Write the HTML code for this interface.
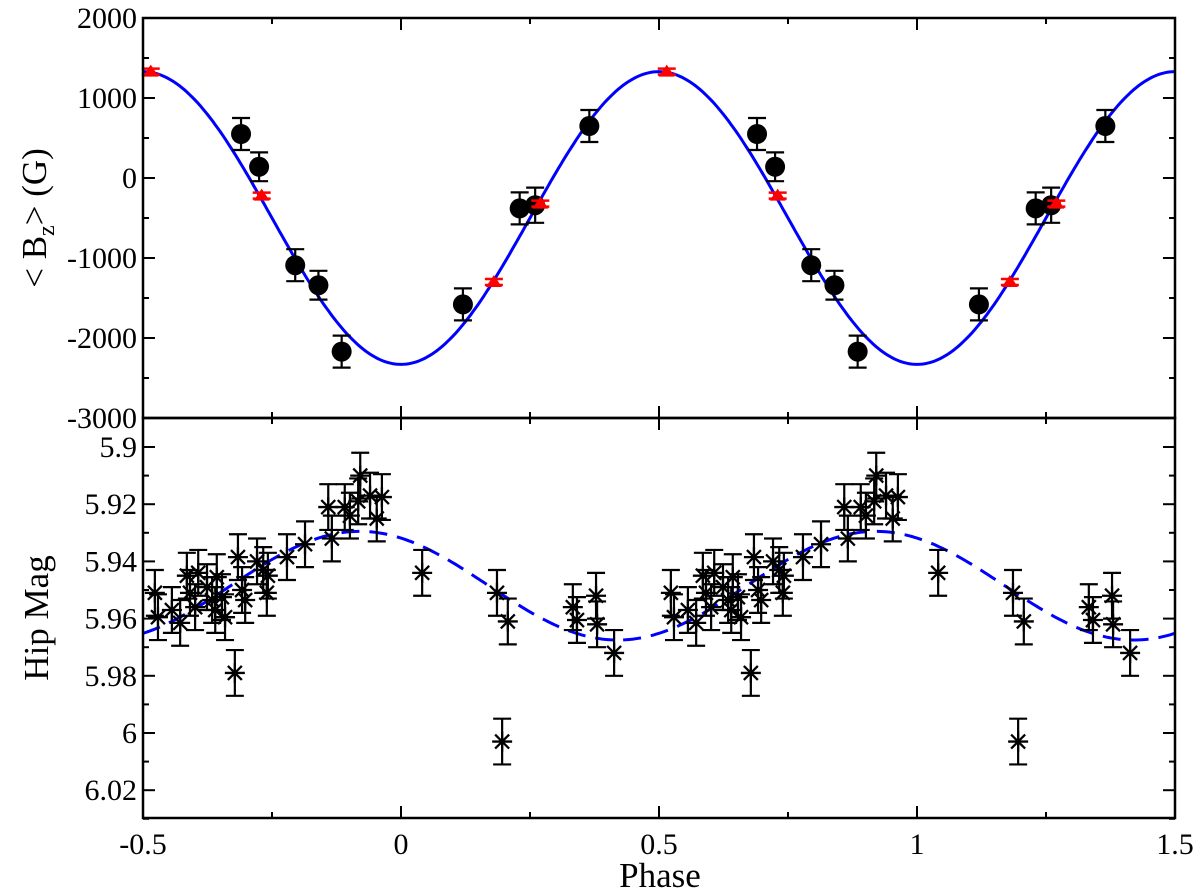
<!DOCTYPE html>
<html><head><meta charset="utf-8"><style>
body{margin:0;background:#fff}
svg{display:block}
text{font-family:"Liberation Serif",serif;fill:#000}
</style></head><body>
<svg id="c" width="1200" height="889"></svg>
<script>
const bzPhase=[-0.31,-0.275,-0.205,-0.16,-0.115,0.12,0.23,0.26,0.365];
const bzVal=[550,140,-1090,-1340,-2170,-1580,-380,-340,650];
const bzErr=[200,180,200,180,200,200,200,220,200];
const redPhase=[-0.485,-0.27,0.18,0.27];
const redVal=[1330,-220,-1300,-320];
const hipPhase=[-0.477,-0.471,-0.444,-0.428,-0.415,-0.409,-0.393,-0.399,-0.376,-0.366,-0.357,-0.36,-0.347,-0.341,-0.322,-0.316,-0.308,-0.302,-0.279,-0.267,-0.26,-0.258,-0.221,-0.186,-0.141,-0.134,-0.109,-0.099,-0.079,-0.083,-0.06,-0.047,-0.037,0.041,0.186,0.207,0.196,0.333,0.341,0.378,0.38,0.413];
const hipMag=[5.951,5.9595,5.957,5.9615,5.945,5.951,5.944,5.956,5.949,5.9535,5.9455,5.957,5.9525,5.9595,5.979,5.9385,5.95,5.9535,5.94,5.943,5.951,5.945,5.9385,5.934,5.921,5.932,5.921,5.924,5.91,5.919,5.917,5.925,5.9175,5.944,5.951,5.961,6.003,5.956,5.9605,5.952,5.962,5.972];
const hipErr=0.008;
const xTicks=[-0.5,0,0.5,1,1.5];
const xTickLabels=["-0.5","0","0.5","1","1.5"];
const bzTicks=[2000,1000,0,-1000,-2000,-3000];
const magTicks=[5.9,5.92,5.94,5.96,5.98,6,6.02];
const magTickLabels=["5.9","5.92","5.94","5.96","5.98","6","6.02"];

const svg=document.getElementById('c');const NS='http://www.w3.org/2000/svg';
function el(t,a,p){const e=document.createElementNS(NS,t);for(const k in a)e.setAttribute(k,a[k]);(p||svg).appendChild(e);return e;}
const X0=143,X1=1175,T0=18,T1=418,B0=418,B1=818;
const x=p=>X0+(p+0.5)/2*(X1-X0);
const yB=v=>T0+(2000-v)/5000*(T1-T0);
const yM=m=>447+(m-5.9)/0.02*57.2;

function path(fn,dash,name){let d='';for(let i=0;i<=400;i++){const p=-0.5+i/200;d+=(i?'L':'M')+x(p).toFixed(1)+' '+fn(p).toFixed(1);}
const e=el('path',{d:d,fill:'none',stroke:'#0000ff','stroke-width':3,'stroke-dasharray':dash||'none'});

}
path(p=>yB(-500-1830*Math.cos(2*Math.PI*p)),null,'bz-fit-curve');
path(p=>yM(5.9485+0.019*Math.cos(2*Math.PI*(p-0.42))),'18 10','mag-fit-curve');

function errbar(cx,y1,y2,w){el('line',{x1:cx,x2:cx,y1:y1,y2:y2,stroke:'#000','stroke-width':2.2});
el('line',{x1:cx-w,x2:cx+w,y1:y1,y2:y1,stroke:'#000','stroke-width':2.2});
el('line',{x1:cx-w,x2:cx+w,y1:y2,y2:y2,stroke:'#000','stroke-width':2.2});}

const reps=p=>[p,p+1].filter(q=>q>=-0.5&&q<=1.5);
bzPhase.forEach((p,i)=>reps(p).forEach(q=>{const cx=x(q);errbar(cx,yB(bzVal[i]+bzErr[i]),yB(bzVal[i]-bzErr[i]),9);
const c=el('circle',{cx:cx,cy:yB(bzVal[i]),r:10,fill:'#000'});

}));
redPhase.forEach((p,i)=>reps(p).forEach(q=>{const cx=x(q),cy=yB(redVal[i]);
el('line',{x1:cx-9,x2:cx+9,y1:cy-3,y2:cy-3,stroke:'#ff0000','stroke-width':2.5});
el('line',{x1:cx-9,x2:cx+9,y1:cy+3,y2:cy+3,stroke:'#ff0000','stroke-width':2.5});
const t=el('polygon',{points:`${cx-8},${cy+5} ${cx+8},${cy+5} ${cx},${cy-7}`,fill:'#ff0000'});

}));
hipPhase.forEach((p,i)=>reps(p).forEach(q=>{const cx=x(q),cy=yM(hipMag[i]);
errbar(cx,yM(hipMag[i]-hipErr),yM(hipMag[i]+hipErr),9);
const g=el('g',{stroke:'#000','stroke-width':2.3});


el('line',{x1:cx-10,x2:cx+10,y1:cy,y2:cy},g);el('line',{x1:cx,x2:cx,y1:cy-10,y2:cy+10},g);
el('line',{x1:cx-7,x2:cx+7,y1:cy-7,y2:cy+7},g);el('line',{x1:cx-7,x2:cx+7,y1:cy+7,y2:cy-7},g);}));

el('rect',{x:X0,y:T0,width:X1-X0,height:T1-T0,fill:'none',stroke:'#000','stroke-width':2.5});
el('rect',{x:X0,y:B0,width:X1-X0,height:B1-B0,fill:'none',stroke:'#000','stroke-width':2.5});
xTicks.forEach((p,i)=>{for(const [a,b] of [[T0,T1],[B0,B1]]){el('line',{x1:x(p),x2:x(p),y1:b,y2:b-12,stroke:'#000','stroke-width':2});el('line',{x1:x(p),x2:x(p),y1:a,y2:a+12,stroke:'#000','stroke-width':2});}
if(i<xTicks.length-1)for(const [a,b] of [[T0,T1],[B0,B1]]){const m=x(p+0.25);el('line',{x1:m,x2:m,y1:b,y2:b-6,stroke:'#000','stroke-width':2});el('line',{x1:m,x2:m,y1:a,y2:a+6,stroke:'#000','stroke-width':2});}
const t=el('text',{x:x(p),y:854,'font-size':30,'text-anchor':'middle'});t.textContent=xTickLabels[i];

});
bzTicks.forEach((v,i)=>{const y=yB(v);el('line',{x1:X0,x2:X0+12,y1:y,y2:y,stroke:'#000','stroke-width':2});el('line',{x1:X1,x2:X1-12,y1:y,y2:y,stroke:'#000','stroke-width':2});
if(i<bzTicks.length-1){const m=yB(v-500);el('line',{x1:X0,x2:X0+6,y1:m,y2:m,stroke:'#000','stroke-width':2});el('line',{x1:X1,x2:X1-6,y1:m,y2:m,stroke:'#000','stroke-width':2});}
const t=el('text',{x:137,y:y+10,'font-size':30,'text-anchor':'end'});t.textContent=String(v);

});
magTicks.forEach((v,i)=>{const y=yM(v);el('line',{x1:X0,x2:X0+12,y1:y,y2:y,stroke:'#000','stroke-width':2});el('line',{x1:X1,x2:X1-12,y1:y,y2:y,stroke:'#000','stroke-width':2});
const m=yM(v+0.01);el('line',{x1:X0,x2:X0+6,y1:m,y2:m,stroke:'#000','stroke-width':2});el('line',{x1:X1,x2:X1-6,y1:m,y2:m,stroke:'#000','stroke-width':2});
const t=el('text',{x:137,y:y+10,'font-size':30,'text-anchor':'end'});t.textContent=magTickLabels[i];

});
</script>
<div style="position:absolute;left:0;top:0;width:1200px;height:889px;pointer-events:none">
<svg width="1200" height="889" style="position:absolute;left:0;top:0">
<text x="660" y="887" font-size="35" text-anchor="middle">Phase</text>
<text transform="translate(46,218) rotate(-90)" font-size="35" text-anchor="middle">&lt; B<tspan font-size="24" dy="8">z</tspan><tspan dy="-8">&gt; (G)</tspan></text>
<text transform="translate(48,618) rotate(-90)" font-size="35" text-anchor="middle">Hip Mag</text>
</svg></div>
</body></html>
